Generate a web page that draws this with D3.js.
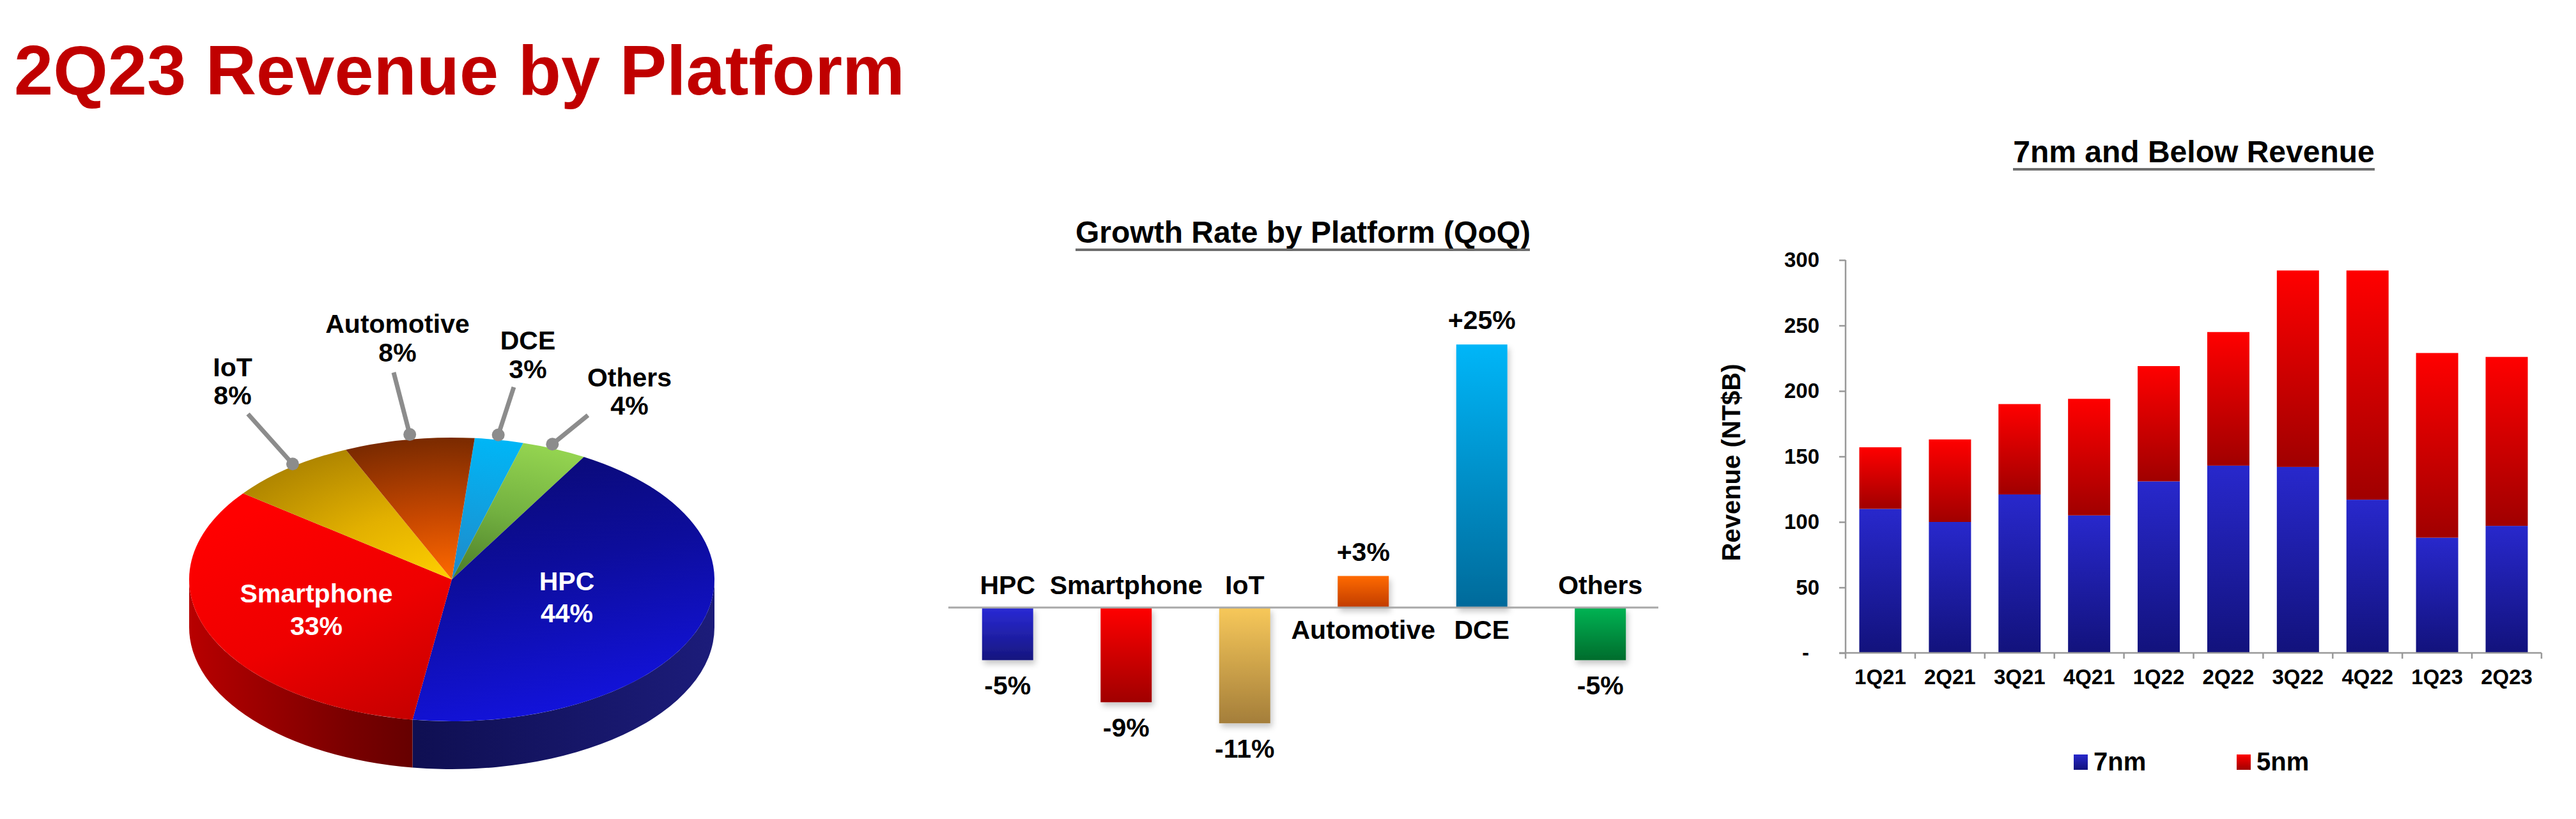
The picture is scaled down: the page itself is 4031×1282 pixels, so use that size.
<!DOCTYPE html>
<html>
<head>
<meta charset="utf-8">
<script src="https://cdn.jsdelivr.net/npm/d3@7"></script>
<style>
  html, body { margin: 0; padding: 0; background: #ffffff; }
  svg text { font-family: "Liberation Sans", Arial, Helvetica, sans-serif; font-weight: bold; }
</style>
</head>
<body>
<script>
// ---------------- DATA ----------------
const pageTitle = "2Q23 Revenue by Platform";

// Pie (clockwise from 12 o'clock)
const pieNames  = ["DCE", "Others", "HPC", "Smartphone", "IoT", "Automotive"];
const pieShares = [3, 4, 44, 33, 8, 8];

// Growth rate by platform (QoQ, %)
const growthTitle = "Growth Rate by Platform (QoQ)";
const growthCats  = ["HPC", "Smartphone", "IoT", "Automotive", "DCE", "Others"];
const growthVals  = [-5, -9, -11, 3, 25, -5];

// 7nm and below revenue (NT$B)
const nodeTitle  = "7nm and Below Revenue";
const quarters   = ["1Q21","2Q21","3Q21","4Q21","1Q22","2Q22","3Q22","4Q22","1Q23","2Q23"];
const rev7nm     = [110, 100, 121, 105, 131, 143, 142, 117, 88, 97];
const rev5nm     = [47, 63, 69, 89, 88, 102, 150, 175, 141, 129];
const yTicks     = [0, 50, 100, 150, 200, 250, 300];
const yTickLabels= ["-", "50", "100", "150", "200", "250", "300"];
const seriesNames= ["7nm", "5nm"];
const yAxisTitle = "Revenue (NT$B)";

// ---------------- SETUP ----------------
const W = 4031, H = 1282;
const svg = d3.select("body").append("svg").attr("width", W).attr("height", H);
const defs = svg.append("defs");

function linGrad(id, stops, x1, y1, x2, y2, user) {
  const g = defs.append("linearGradient").attr("id", id)
    .attr("x1", x1).attr("y1", y1).attr("x2", x2).attr("y2", y2);
  if (user) g.attr("gradientUnits", "userSpaceOnUse");
  stops.forEach(s => g.append("stop").attr("offset", s[0]).attr("stop-color", s[1]));
  return "url(#" + id + ")";
}
function radGrad(id, stops, r) {
  const g = defs.append("radialGradient").attr("id", id)
    .attr("gradientUnits", "userSpaceOnUse").attr("cx", 0).attr("cy", 0).attr("r", r);
  stops.forEach(s => g.append("stop").attr("offset", s[0]).attr("stop-color", s[1]));
  return "url(#" + id + ")";
}
const shadow = defs.append("filter").attr("id", "barShadow")
  .attr("x", "-30%").attr("y", "-30%").attr("width", "160%").attr("height", "160%");
shadow.append("feDropShadow").attr("dx", 3).attr("dy", 6).attr("stdDeviation", 5)
  .attr("flood-color", "#000").attr("flood-opacity", 0.22);

// ---------------- TITLE ----------------
svg.append("text").attr("x", 22).attr("y", 148)
  .attr("font-size", 110).attr("fill", "#c00000").text(pageTitle);

// ---------------- 3D PIE ----------------
const pc = { cx: 707, cy: 907, rx: 411, ry: 222, depth: 75 };
const toRad = Math.PI / 180;
const pie = d3.pie().sort(null).value(d => d)
  .startAngle(5 * toRad).endAngle(365 * toRad);
const arcsData = pie(pieShares);
const ep = (a, dy = 0) => [pc.cx + pc.rx * Math.sin(a), pc.cy - pc.ry * Math.cos(a) + dy];

const sideFill = {
  HPC: linGrad("sideHPC", [[0, "#0f0f52"], [1, "#1c1c7a"]], pc.cx - 60, 0, pc.cx + pc.rx, 0, true),
  Smartphone: linGrad("sideSP", [[0, "#b80000"], [0.6, "#7a0000"], [1, "#5a0000"]], pc.cx - pc.rx, 0, pc.cx, 0, true)
};
const gSide = svg.append("g");
arcsData.forEach((d, i) => {
  const s = Math.max(d.startAngle, Math.PI / 2);
  const e = Math.min(d.endAngle, 3 * Math.PI / 2);
  if (s >= e) return;
  const p = d3.path();
  const a = ep(s), b = ep(e), b2 = ep(e, pc.depth), a2 = ep(s, pc.depth);
  p.moveTo(a[0], a[1]);
  const str = p.toString() +
    `A${pc.rx},${pc.ry} 0 0 1 ${b[0]},${b[1]}` +
    `L${b2[0]},${b2[1]}` +
    `A${pc.rx},${pc.ry} 0 0 0 ${a2[0]},${a2[1]}Z`;
  gSide.append("path").attr("d", str).attr("fill", sideFill[pieNames[i]] || "#444");
});

const topFill = {
  HPC: linGrad("topHPC", [[0, "#0a0a6c"], [0.45, "#0d0d9c"], [1, "#1414e8"]], 0, -pc.rx, pc.rx * 0.8, pc.rx, true),
  Smartphone: linGrad("topSP", [[0, "#ff0000"], [0.5, "#ee0000"], [1, "#c00000"]], -pc.rx, -pc.rx * 0.3, 0, pc.rx, true),
  IoT: radGrad("topIoT", [[0, "#ffd000"], [0.5, "#e2b000"], [1, "#b08600"]], pc.rx),
  Automotive: radGrad("topAuto", [[0, "#ff6a00"], [0.45, "#c84800"], [1, "#7a2a00"]], pc.rx),
  DCE: radGrad("topDCE", [[0, "#2088c8"], [0.5, "#10a0e0"], [1, "#00b6f6"]], pc.rx),
  Others: radGrad("topOth", [[0, "#4a7a28"], [0.5, "#72b040"], [1, "#94d450"]], pc.rx)
};
const arcGen = d3.arc().innerRadius(0).outerRadius(pc.rx);
svg.append("g")
  .attr("transform", `translate(${pc.cx},${pc.cy}) scale(1,${pc.ry / pc.rx})`)
  .selectAll("path").data(arcsData).join("path")
  .attr("d", arcGen)
  .attr("fill", (d, i) => topFill[pieNames[i]]);

// pie labels
const insideLayout = {
  HPC: { x: 887, y1: 924, y2: 974 },
  Smartphone: { x: 495, y1: 943, y2: 994 }
};
const outsideLayout = {
  IoT: { x: 364, y1: 589, y2: 633, lx: 388, ly: 648 },
  Automotive: { x: 622, y1: 521, y2: 566, lx: 616, ly: 583 },
  DCE: { x: 826, y1: 547, y2: 592, lx: 804, ly: 606 },
  Others: { x: 985, y1: 605, y2: 649, lx: 920, ly: 650 }
};
const gLab = svg.append("g").attr("text-anchor", "middle").attr("font-size", 41);
arcsData.forEach((d, i) => {
  const name = pieNames[i];
  const pct = pieShares[i] + "%";
  if (insideLayout[name]) {
    const L = insideLayout[name];
    gLab.append("text").attr("x", L.x).attr("y", L.y1).attr("fill", "#fff").text(name);
    gLab.append("text").attr("x", L.x).attr("y", L.y2).attr("fill", "#fff").text(pct);
  } else if (outsideLayout[name]) {
    const L = outsideLayout[name];
    const m = (d.startAngle + d.endAngle) / 2;
    const dot = [pc.cx + pc.rx * 0.98 * Math.sin(m), pc.cy - (pc.ry + 8) * Math.cos(m)];
    svg.append("line").attr("x1", L.lx).attr("y1", L.ly).attr("x2", dot[0]).attr("y2", dot[1])
      .attr("stroke", "#8c8c8c").attr("stroke-width", 7);
    svg.append("circle").attr("cx", dot[0]).attr("cy", dot[1]).attr("r", 10).attr("fill", "#8c8c8c");
    gLab.append("text").attr("x", L.x).attr("y", L.y1).attr("fill", "#000").text(name);
    gLab.append("text").attr("x", L.x).attr("y", L.y2).attr("fill", "#000").text(pct);
  }
});

// ---------------- GROWTH CHART ----------------
const gx = d3.scaleBand().domain(growthCats).range([1484, 2597])
  .paddingInner(0.569).paddingOuter(0.2845);
const gy = d3.scaleLinear().domain([0, 25]).range([951, 539.25]);
const growthFill = {
  HPC: linGrad("gHPC", [[0, "#2a2ad6"], [1, "#16167e"]], 0, 0, 0, 1),
  Smartphone: linGrad("gSP", [[0, "#ff0000"], [1, "#a00000"]], 0, 0, 0, 1),
  IoT: linGrad("gIoT", [[0, "#f7c85a"], [1, "#a47e3a"]], 0, 0, 0, 1),
  Automotive: linGrad("gAuto", [[0, "#ff6a00"], [1, "#c03c00"]], 0, 0, 0, 1),
  DCE: linGrad("gDCE", [[0, "#00b6f8"], [1, "#006a9a"]], 0, 0, 0, 1),
  Others: linGrad("gOth", [[0, "#00b454"], [1, "#006c2c"]], 0, 0, 0, 1)
};
const gG = svg.append("g");
gG.selectAll("rect").data(growthCats).join("rect")
  .attr("x", d => gx(d))
  .attr("width", gx.bandwidth())
  .attr("y", (d, i) => Math.min(gy(growthVals[i]), gy(0)))
  .attr("height", (d, i) => Math.abs(gy(growthVals[i]) - gy(0)))
  .attr("fill", d => growthFill[d])
  .attr("filter", "url(#barShadow)");
gG.append("line").attr("x1", 1484).attr("x2", 2595).attr("y1", gy(0)).attr("y2", gy(0))
  .attr("stroke", "#a8a8a8").attr("stroke-width", 3);
const gt = gG.append("g").attr("text-anchor", "middle").attr("font-size", 41).attr("fill", "#000");
growthCats.forEach((c, i) => {
  const v = growthVals[i];
  const xc = gx(c) + gx.bandwidth() / 2;
  gt.append("text").attr("x", xc).attr("y", v < 0 ? gy(0) - 21 : gy(0) + 49).text(c);
  gt.append("text").attr("x", xc).attr("y", v < 0 ? gy(v) + 54 : gy(v) - 24)
    .text((v > 0 ? "+" : "") + v + "%");
});
svg.append("text").attr("x", 2039).attr("y", 380).attr("text-anchor", "middle")
  .attr("font-size", 48).text(growthTitle);
svg.append("line").attr("x1", 1683).attr("x2", 2394).attr("y1", 391).attr("y2", 391)
  .attr("stroke", "#6e6e6e").attr("stroke-width", 4);

// ---------------- 7nm CHART ----------------
const nx = d3.scaleBand().domain(quarters).range([2888, 3977])
  .paddingInner(0.394).paddingOuter(0.197);
const ny = d3.scaleLinear().domain([0, 300]).range([1022, 407]);
const fill7 = linGrad("b7", [[0, "#2828cc"], [1, "#12127c"]], 0, 0, 0, 1);
const fill5 = linGrad("b5", [[0, "#ff0000"], [1, "#a00000"]], 0, 0, 0, 1);
const gN = svg.append("g");
gN.selectAll("rect.n7").data(quarters).join("rect").attr("class", "n7")
  .attr("x", d => nx(d)).attr("width", nx.bandwidth())
  .attr("y", (d, i) => ny(rev7nm[i])).attr("height", (d, i) => ny(0) - ny(rev7nm[i]))
  .attr("fill", fill7);
gN.selectAll("rect.n5").data(quarters).join("rect").attr("class", "n5")
  .attr("x", d => nx(d)).attr("width", nx.bandwidth())
  .attr("y", (d, i) => ny(rev7nm[i] + rev5nm[i]))
  .attr("height", (d, i) => ny(rev7nm[i]) - ny(rev7nm[i] + rev5nm[i]))
  .attr("fill", fill5);

const axisColor = "#999999";
// y axis
const yAx = gN.append("g").attr("transform", "translate(2888,0)")
  .call(d3.axisLeft(ny).tickValues(yTicks).tickSize(10).tickPadding(31)
    .tickFormat((d, i) => yTickLabels[i]));
yAx.select(".domain").attr("stroke", axisColor).attr("stroke-width", 2.5)
  .attr("d", `M0,${ny(300)}V${ny(0)}`);
yAx.selectAll(".tick line").attr("stroke", axisColor).attr("stroke-width", 2.5);
yAx.selectAll(".tick text").attr("font-size", 33).attr("fill", "#000")
  .attr("font-family", null)
  .attr("dx", (d) => d === 0 ? -16 : 0);
// x axis
const xAx = gN.append("g").attr("transform", `translate(0,${ny(0)})`)
  .call(d3.axisBottom(nx).tickSize(0).tickPadding(26));
xAx.select(".domain").attr("stroke", axisColor).attr("stroke-width", 2.5)
  .attr("d", `M2878,0H3977`);
xAx.selectAll(".tick text").attr("font-size", 33).attr("fill", "#000").attr("font-family", null);
// band-boundary ticks
const boundaries = d3.range(quarters.length + 1).map(i => nx.range()[0] + i * nx.step());
xAx.selectAll("line.bt").data(boundaries).join("line").attr("class", "bt")
  .attr("x1", d => d).attr("x2", d => d).attr("y1", 0).attr("y2", 9)
  .attr("stroke", axisColor).attr("stroke-width", 2.5);

svg.append("text").attr("transform", "translate(2723,724) rotate(-90)")
  .attr("text-anchor", "middle").attr("font-size", 40).text(yAxisTitle);
svg.append("text").attr("x", 3433).attr("y", 254).attr("text-anchor", "middle")
  .attr("font-size", 48).text(nodeTitle);
svg.append("line").attr("x1", 3150).attr("x2", 3716).attr("y1", 265).attr("y2", 265)
  .attr("stroke", "#6e6e6e").attr("stroke-width", 4);

// legend
const legendLayout = [{ x: 3245 }, { x: 3500 }];
const legFills = [fill7, fill5];
seriesNames.forEach((s, i) => {
  const L = legendLayout[i];
  svg.append("rect").attr("x", L.x).attr("y", 1181).attr("width", 22).attr("height", 24)
    .attr("fill", legFills[i]);
  svg.append("text").attr("x", L.x + 31).attr("y", 1206).attr("font-size", 40).text(s);
});
</script>
</body>
</html>
